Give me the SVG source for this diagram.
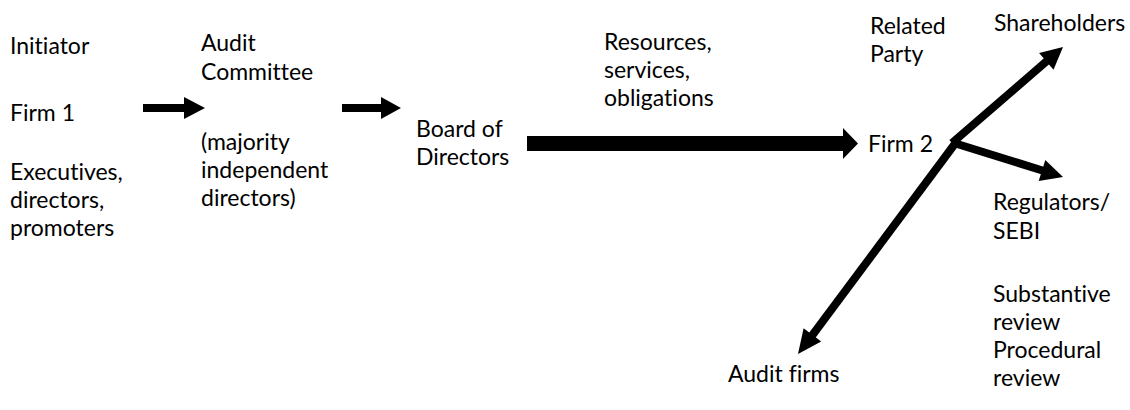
<svg xmlns="http://www.w3.org/2000/svg" width="1130" height="410" viewBox="0 0 1130 410">
<style>
text{font-family:Lato,"Liberation Sans",sans-serif;font-size:23px;fill:#000;font-variant-ligatures:none;font-feature-settings:"liga" 0,"clig" 0}
.ln{stroke:#000;stroke-width:8;fill:none}
.hd{fill:#000}
</style>
<rect width="1130" height="410" fill="#fff"/>
<g id="initiator">
<text x="10" y="54">Initiator</text>
<text x="10" y="121">Firm 1</text>
<text x="10" y="180">Executives,</text>
<text x="10" y="208">directors,</text>
<text x="10" y="236">promoters</text>
</g>
<g id="audit-committee">
<text x="201" y="51">Audit</text>
<text x="201" y="80">Committee</text>
<text x="201" y="150">(majority</text>
<text x="201" y="178">independent</text>
<text x="201" y="206">directors)</text>
</g>
<g id="board">
<text x="416" y="137">Board of</text>
<text x="416" y="165">Directors</text>
</g>
<g id="resources">
<text x="604" y="50">Resources,</text>
<text x="604" y="78">services,</text>
<text x="604" y="106">obligations</text>
</g>
<g id="firm2">
<text x="870" y="34">Related</text>
<text x="870" y="62">Party</text>
<text x="868" y="152">Firm 2</text>
</g>
<g id="shareholders">
<text x="994" y="31">Shareholders</text>
</g>
<g id="regulators">
<text x="993" y="210">Regulators/</text>
<text x="993" y="239">SEBI</text>
<text x="993" y="302">Substantive</text>
<text x="993" y="330">review</text>
<text x="993" y="358">Procedural</text>
<text x="993" y="386">review</text>
</g>
<g id="audit-firms">
<text x="728" y="382">Audit firms</text>
</g>
<g id="connectors">
<polygon class="hd" points="143,104 184,104 184,97 205,108 184,119 184,112 143,112"/>
<polygon class="hd" points="342,104 381,104 381,97 401,108 381,119 381,112 342,112"/>
<polygon class="hd" points="527,136 843,136 843,128 858,143.5 843,159 843,151 527,151"/>
<line class="ln" x1="952" y1="143" x2="1048" y2="60"/>
<polygon class="hd" points="1063,47 1053.5,69.7 1039.1,53.1"/>
<line class="ln" x1="954" y1="143" x2="1044" y2="171"/>
<polygon class="hd" points="1063,177 1038.7,180.9 1045.3,159.9"/>
<line class="ln" x1="957" y1="141" x2="811" y2="337"/>
<polygon class="hd" points="798,354 803.6,328.2 821.2,341.4"/>
</g>
</svg>
